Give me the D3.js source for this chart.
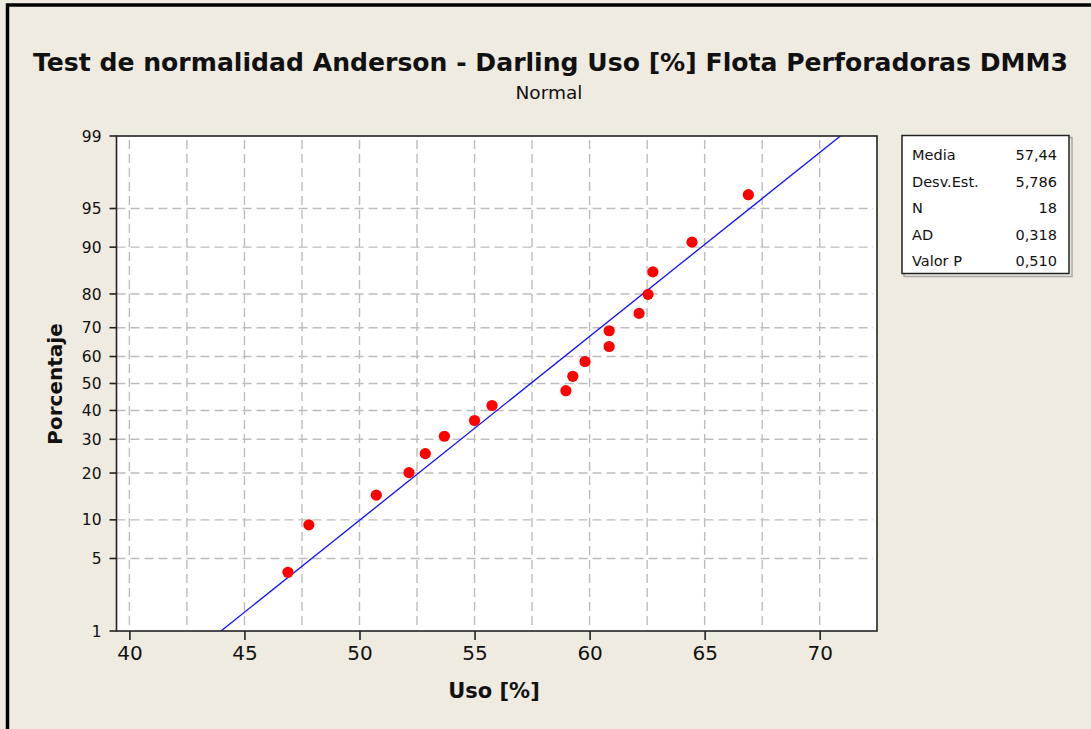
<!DOCTYPE html>
<html>
<head>
<meta charset="utf-8">
<script src="https://cdn.jsdelivr.net/npm/d3@7"></script>
<style>
  body { margin: 0; background: #efebe0; }
  svg { display: block; }
  text { font-family: "DejaVu Sans", Verdana, sans-serif; fill: #111; }
</style>
</head>
<body>
<svg id="chart" width="1091" height="729"></svg>
<script>
// observed values (Uso [%]) and their plotted percentages
const usoValues = [46.89, 47.8, 50.73, 52.15, 52.86, 53.69, 55.0, 55.76, 58.97,
                   59.27, 59.8, 60.85, 60.85, 62.15, 62.54, 62.75, 64.45, 66.9];
const percentValues = [3.8, 9.2, 14.7, 20.1, 25.5, 31.0, 36.4, 41.8, 47.3,
                       52.7, 58.2, 63.6, 69.0, 74.5, 79.9, 85.3, 90.8, 96.2];
const xTicks = [40, 45, 50, 55, 60, 65, 70];
const xGrid = [40, 42.5, 45, 47.5, 50, 52.5, 55, 57.5, 60, 62.5, 65, 67.5, 70];
const yTicks = [1, 5, 10, 20, 30, 40, 50, 60, 70, 80, 90, 95, 99];
const statLabels = ['Media', 'Desv.Est.', 'N', 'AD', 'Valor P'];
const statValues = ['57,44', '5,786', '18', '0,318', '0,510'];
const fitMean = 57.44, fitSd = 5.786;

// inverse normal cdf (Acklam) used for the probability axis
function probit(p) {
    const a = [-39.6968302866538, 220.946098424521, -275.928510446969, 138.357751867269, -30.6647980661472, 2.50662827745924];
    const b = [-54.4760987982241, 161.585836858041, -155.698979859887, 66.8013118877197, -13.2806815528857];
    const c = [-0.00778489400243029, -0.322396458041136, -2.40075827716184, -2.54973253934373, 4.37466414146497, 2.93816398269878];
    const d = [0.00778469570904146, 0.32246712907004, 2.445134137143, 3.75440866190742];
    const pl = 0.02425;
    let q, r;
    if (p < pl) {
        q = Math.sqrt(-2 * Math.log(p));
        return (((((c[0]*q+c[1])*q+c[2])*q+c[3])*q+c[4])*q+c[5]) / ((((d[0]*q+d[1])*q+d[2])*q+d[3])*q+1);
    } else if (p <= 1 - pl) {
        q = p - 0.5; r = q * q;
        return (((((a[0]*r+a[1])*r+a[2])*r+a[3])*r+a[4])*r+a[5])*q / (((((b[0]*r+b[1])*r+b[2])*r+b[3])*r+b[4])*r+1);
    }
    q = Math.sqrt(-2 * Math.log(1 - p));
    return -(((((c[0]*q+c[1])*q+c[2])*q+c[3])*q+c[4])*q+c[5]) / ((((d[0]*q+d[1])*q+d[2])*q+d[3])*q+1);
}

const svg = d3.select('#chart');
const pLeft = 116.5, pRight = 877, pTop = 136, pBottom = 631;

// outer frame
svg.append('rect').attr('x', 7.5).attr('y', 5).attr('width', 1100).attr('height', 740)
    .attr('fill', '#efebe0').attr('stroke', '#000').attr('stroke-width', 3.5);

const x = d3.scaleLinear().domain([39.44, 72.49]).range([pLeft, pRight]);
const zScale = d3.scaleLinear().domain([probit(0.01), probit(0.99)]).range([pBottom, pTop]);
const y = p => zScale(probit(p / 100));

// plot area
svg.append('rect').attr('x', pLeft).attr('y', pTop).attr('width', pRight - pLeft).attr('height', pBottom - pTop)
    .attr('fill', '#fff');

const grid = svg.append('g').attr('stroke', '#bdbdbd').attr('stroke-width', 1.4).attr('stroke-dasharray', '9,5');
grid.selectAll('line.v').data(xGrid).join('line')
    .attr('x1', d => x(d)).attr('x2', d => x(d)).attr('y1', pTop + 4).attr('y2', pBottom);
grid.selectAll('line.h').data(yTicks.slice(1, -1)).join('line')
    .attr('x1', pLeft).attr('x2', pRight - 4).attr('y1', d => y(d)).attr('y2', d => y(d));

// fitted line
svg.append('clipPath').attr('id', 'plotClip').append('rect')
    .attr('x', pLeft).attr('y', pTop).attr('width', pRight - pLeft).attr('height', pBottom - pTop);
svg.append('line')
    .attr('clip-path', 'url(#plotClip)')
    .attr('x1', x(fitMean + probit(0.01) * fitSd)).attr('y1', y(1))
    .attr('x2', x(fitMean + probit(0.99) * fitSd)).attr('y2', y(99))
    .attr('stroke', '#1010ff').attr('stroke-width', 1.3);

// points
svg.append('g').selectAll('circle').data(usoValues).join('circle')
    .attr('cx', d => x(d)).attr('cy', (d, i) => y(percentValues[i]))
    .attr('r', 5.6).attr('fill', '#ff0000');

svg.append('rect').attr('x', pLeft).attr('y', pTop).attr('width', pRight - pLeft).attr('height', pBottom - pTop)
    .attr('fill', 'none').attr('stroke', '#222').attr('stroke-width', 1.6);

// axes
const xAxis = svg.append('g').attr('transform', `translate(0,${pBottom})`)
    .call(d3.axisBottom(x).tickValues(xTicks).tickSize(9).tickPadding(6).tickSizeOuter(0));
xAxis.select('.domain').remove();
xAxis.selectAll('line').attr('stroke', '#222').attr('stroke-width', 1.6);
xAxis.selectAll('text').attr('font-size', 20).attr('fill', '#111')
    .style('font-family', 'DejaVu Sans, sans-serif');

const yAxis = svg.append('g').attr('transform', `translate(${pLeft},0)`);
yAxis.selectAll('line').data(yTicks).join('line')
    .attr('x1', -7).attr('x2', 0).attr('y1', d => y(d)).attr('y2', d => y(d))
    .attr('stroke', '#222').attr('stroke-width', 1.6);
yAxis.selectAll('text').data(yTicks).join('text')
    .attr('x', -15).attr('y', d => y(d)).attr('dy', '0.36em')
    .attr('text-anchor', 'end').attr('font-size', 15.5).text(d => d);

// titles
svg.append('text').attr('x', 550.5).attr('y', 71).attr('text-anchor', 'middle')
    .attr('font-size', 25).attr('font-weight', 'bold')
    .attr('textLength', 1035).attr('lengthAdjust', 'spacingAndGlyphs')
    .text('Test de normalidad Anderson - Darling Uso [%] Flota Perforadoras DMM3');
svg.append('text').attr('x', 549).attr('y', 99).attr('text-anchor', 'middle')
    .attr('font-size', 18.5).text('Normal');
svg.append('text').attr('x', 494).attr('y', 698).attr('text-anchor', 'middle')
    .attr('font-size', 21).attr('font-weight', 'bold').text('Uso [%]');
svg.append('text').attr('transform', 'translate(62,384) rotate(-90)').attr('text-anchor', 'middle')
    .attr('font-size', 20).attr('font-weight', 'bold').text('Porcentaje');

// stats box
const box = svg.append('g');
box.append('rect').attr('x', 904).attr('y', 137.5).attr('width', 168).attr('height', 139)
    .attr('fill', 'none').attr('stroke', '#a8a8a8').attr('stroke-width', 1.5);
box.append('rect').attr('x', 902).attr('y', 135.5).attr('width', 167).attr('height', 138)
    .attr('fill', '#fff').attr('stroke', '#222').attr('stroke-width', 1.5);
box.selectAll('text.lab').data(statLabels).join('text')
    .attr('x', 912).attr('y', (d, i) => 160 + i * 26.6).attr('font-size', 14.5).text(d => d);
box.selectAll('text.val').data(statValues).join('text')
    .attr('x', 1057).attr('y', (d, i) => 160 + i * 26.6).attr('text-anchor', 'end')
    .attr('font-size', 14.5).text(d => d);
</script>
</body>
</html>
